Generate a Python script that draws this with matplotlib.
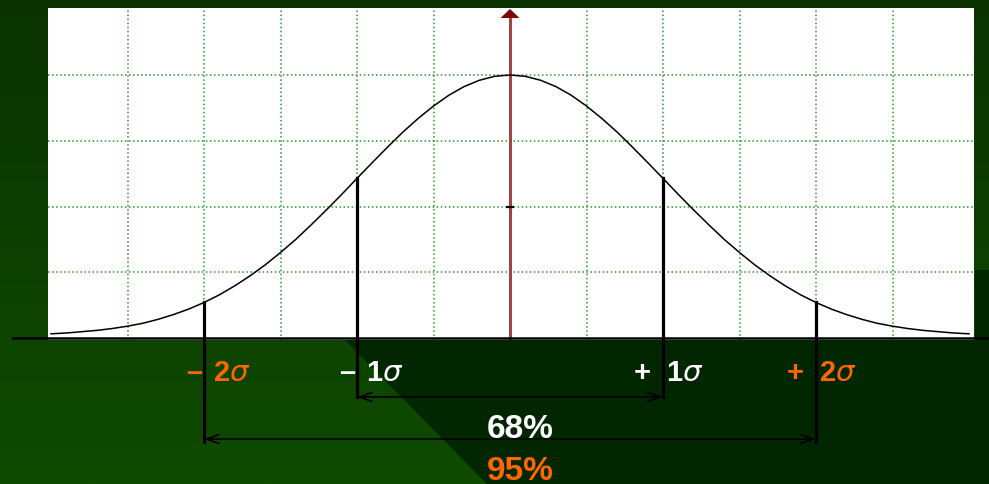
import numpy as np
import matplotlib.pyplot as plt
from matplotlib.patches import Polygon

plt.rcParams['font.family'] = ['Liberation Sans', 'DejaVu Sans']
plt.rcParams['mathtext.fontset'] = 'dejavusans'

# bell curve: position in sigma units, height relative to the peak
z = [-3.0, -2.9, -2.8, -2.7, -2.6, -2.5, -2.4, -2.3, -2.2, -2.1,
     -2.0, -1.9, -1.8, -1.7, -1.6, -1.5, -1.4, -1.3, -1.2, -1.1,
     -1.0, -0.9, -0.8, -0.7, -0.6, -0.5, -0.4, -0.3, -0.2, -0.1,
     0.0, 0.1, 0.2, 0.3, 0.4, 0.5, 0.6, 0.7, 0.8, 0.9,
     1.0, 1.1, 1.2, 1.3, 1.4, 1.5, 1.6, 1.7, 1.8, 1.9,
     2.0, 2.1, 2.2, 2.3, 2.4, 2.5, 2.6, 2.7, 2.8, 2.9, 3.0]
h = [0.016, 0.019, 0.024, 0.029, 0.036, 0.045, 0.056, 0.071, 0.089, 0.110,
     0.135, 0.164, 0.198, 0.236, 0.278, 0.325, 0.375, 0.430, 0.487, 0.546,
     0.607, 0.667, 0.726, 0.783, 0.835, 0.882, 0.923, 0.956, 0.980, 0.995,
     1.000, 0.995, 0.980, 0.956, 0.923, 0.882, 0.835, 0.783, 0.726, 0.667,
     0.607, 0.546, 0.487, 0.430, 0.375, 0.325, 0.278, 0.236, 0.198, 0.164,
     0.135, 0.110, 0.089, 0.071, 0.056, 0.045, 0.036, 0.029, 0.024, 0.019, 0.016]

# sigma marks below the axis
marks = [-2, -1, 1, 2]
signs = ['–', '–', '+', '+']
nums = ['2', '1', '1', '2']
mark_colors = ['#ff6600', 'white', 'white', '#ff6600']

# share of the area inside +-1 and +-2 sigma
band_sigma = [1, 2]
band_labels = ['68%', '95%']
band_colors = ['white', '#ff6600']

W, H = 989, 484
fig = plt.figure(figsize=(W / 100, H / 100), dpi=100)

# green slide background
bg = fig.add_axes([0, 0, 1, 1], zorder=-5)
top = np.array([0x0a, 0x33, 0x00]) / 255
bot = np.array([0x0f, 0x4b, 0x00]) / 255
t = np.linspace(0, 1, 200)[:, None, None]
grad = top + (bot - top) * t
bg.imshow(np.repeat(grad, 2, axis=1), extent=[0, W, H, 0], aspect='auto')
bg.add_patch(Polygon([(345, 340), (487, H), (W, H), (W, 270), (975, 270), (975, 340)],
                     closed=True, color='#012600', lw=0))
bg.set_xlim(0, W)
bg.set_ylim(H, 0)
bg.axis('off')

# plot area: 153 px per sigma, 263 px per unit height, centre at x=510, base at y=338
ax = fig.add_axes([48 / W, (H - 340) / H, 926 / W, 332 / H], facecolor='white')
ax.set_xlim((48 - 510) / 153, (974 - 510) / 153)
ax.set_ylim(-2 / 263, 330 / 263)

def ypx(p):
    return -(p - 338) / 263

def xpx(p):
    return (p - 510) / 153

ax.set_xticks(np.arange(-2.5, 2.6, 0.5))
ax.set_yticks([0.25, 0.5, 0.75, 1.0])
ax.grid(True, linestyle=':', color='#2a9a2a', lw=1.1)
ax.tick_params(length=0, labelbottom=False, labelleft=False)
for s in ax.spines.values():
    s.set_visible(False)

ax.plot(z, h, color='black', lw=1.1, zorder=4)

# vertical axis with arrow
ax.plot([0, 0], [0, 1.225], color='#a04545', lw=2.2, zorder=3)
ax.annotate('', xy=(0, 1.251), xytext=(0, 1.21),
            arrowprops=dict(arrowstyle='-|>,head_length=0.65,head_width=0.68',
                            color='#800000', lw=0, shrinkA=0, shrinkB=0))
ax.plot([0], [0.5], marker='_', ms=6, mew=1.6, color='black', zorder=5)

# horizontal axis line
ax.plot([xpx(13), xpx(989)], [0, 0], color='black', lw=1.8, clip_on=False, zorder=6)

# sigma lines and labels
for m, sg, n, c in zip(marks, signs, nums, mark_colors):
    top_h = h[z.index(float(m))]
    bottom = ypx(397) if abs(m) == 1 else ypx(442)
    ax.plot([m, m], [top_h, bottom], color='black', lw=2.3, clip_on=False, zorder=6)
    if sg == '–':
        sx, nx = m - 2 / 153, m + 9 / 153
    else:
        sx, nx = m - 12 / 153, m + 3 / 153
    ax.text(sx, ypx(381), sg, color=c, fontsize=21, fontweight='bold',
            ha='right', va='baseline')
    ax.text(nx, ypx(381), n + r'$\mathit{\sigma}$', color=c, fontsize=21,
            fontweight='bold', ha='left', va='baseline')

# range arrows and percentages
arrow_y = [ypx(397), ypx(439)]
text_y = [ypx(438), ypx(480)]
for b, lab, c, ay, ty in zip(band_sigma, band_labels, band_colors, arrow_y, text_y):
    ax.annotate('', xy=(b, ay), xytext=(-b, ay), annotation_clip=False,
                arrowprops=dict(arrowstyle='<->,head_length=0.9,head_width=0.32',
                                color='black', lw=1.2, shrinkA=0, shrinkB=0))
    ax.text(xpx(520), ty, lab, color=c, fontsize=24, fontweight='bold',
            ha='center', va='baseline')

fig.savefig('out.png', dpi=100, facecolor=fig.get_facecolor())
